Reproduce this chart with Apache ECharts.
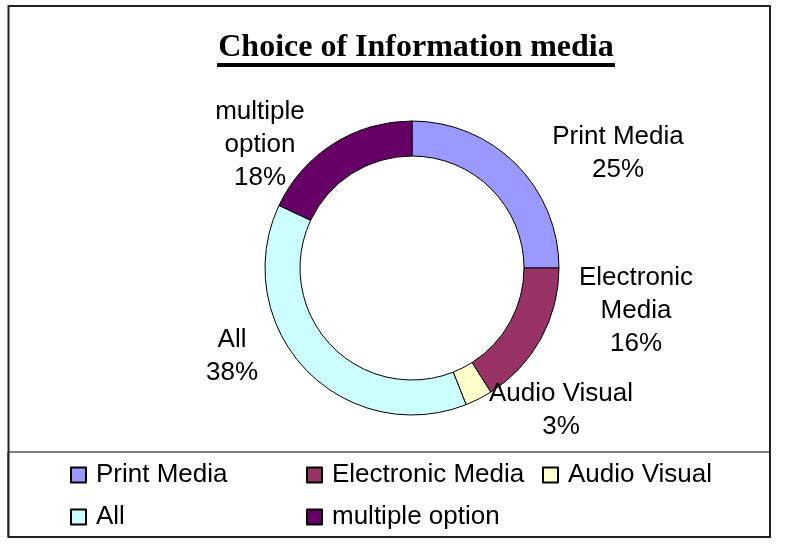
<!DOCTYPE html>
<html><head><meta charset="utf-8">
<script src="https://cdn.jsdelivr.net/npm/echarts@6/dist/echarts.min.js"></script>
<style>html,body{margin:0;padding:0;background:#fff}#c{width:810px;height:560px}</style>
</head><body><div id="c"></div>
<script>
const categories = ['Print Media', 'Electronic Media', 'Audio Visual', 'All', 'multiple option'];
const labelTexts = ['Print Media', 'Electronic\nMedia', 'Audio Visual', 'All', 'multiple\noption'];
const values = [25, 16, 3, 38, 18];
const colors = ['#9999FF', '#993366', '#FFFFCC', '#CCFFFF', '#660066'];

// label block centres (layout, px)
const LABEL_CENTERS = [[618, 153], [636, 311], [561, 410], [232, 356], [260, 145]];

const chart = echarts.init(document.getElementById('c'), null, {renderer: 'canvas'});
const FONT = 'Liberation Sans, Arial, sans-serif';

chart.setOption({
  animation: false,
  backgroundColor: '#fff',
  title: {
    text: 'Choice of Information media',
    left: 416, top: 32, textAlign: 'center', padding: 0,
    textStyle: {fontFamily: 'Liberation Serif, Times New Roman, serif', fontWeight: 'bold', fontSize: 32, color: '#000'}
  },
  graphic: [
    {type: 'rect', shape: {x: 217, y: 63, width: 398, height: 4}, style: {fill: '#000'}, silent: true},
    {type: 'rect', shape: {x: 8.5, y: 6, width: 761.5, height: 531}, style: {fill: 'none', stroke: '#222', lineWidth: 2}, silent: true, z: 100}
  ],
  legend: {
    data: categories,
    left: 8, top: 452, width: 700,
    padding: [8, 4, 5, 62],
    itemGap: 12, itemWidth: 15, itemHeight: 15,
    icon: 'rect',
    borderColor: '#000', borderWidth: 1,
    selectedMode: false,
    textStyle: {fontFamily: FONT, fontSize: 26, color: '#000', width: 198, lineHeight: 30, padding: [0, 0, 0, 5]}
  },
  series: [{
    type: 'pie',
    center: [412, 268],
    radius: [112, 147],
    startAngle: 90,
    clockwise: true,
    avoidLabelOverlap: false,
    silent: true,
    itemStyle: {borderColor: '#000', borderWidth: 1},
    label: {
      show: true, position: 'outside',
      formatter: function (p) {
        return labelTexts[p.dataIndex].split('\n').map(s => '{a|' + s + '}').join('\n') + '\n{a|' + Math.round(p.percent) + '%}';
      },
      rich: {a: {fontFamily: FONT, fontSize: 26, lineHeight: 33, color: '#000', align: 'center'}}
    },
    labelLine: {show: false},
    labelLayout: function (params) {
      const c = LABEL_CENTERS[params.dataIndex];
      return {x: c[0], y: c[1], align: 'center', verticalAlign: 'middle'};
    },
    emphasis: {disabled: true},
    data: categories.map((n, i) => ({name: n, value: values[i], itemStyle: {color: colors[i]}}))
  }]
});
</script></body></html>
